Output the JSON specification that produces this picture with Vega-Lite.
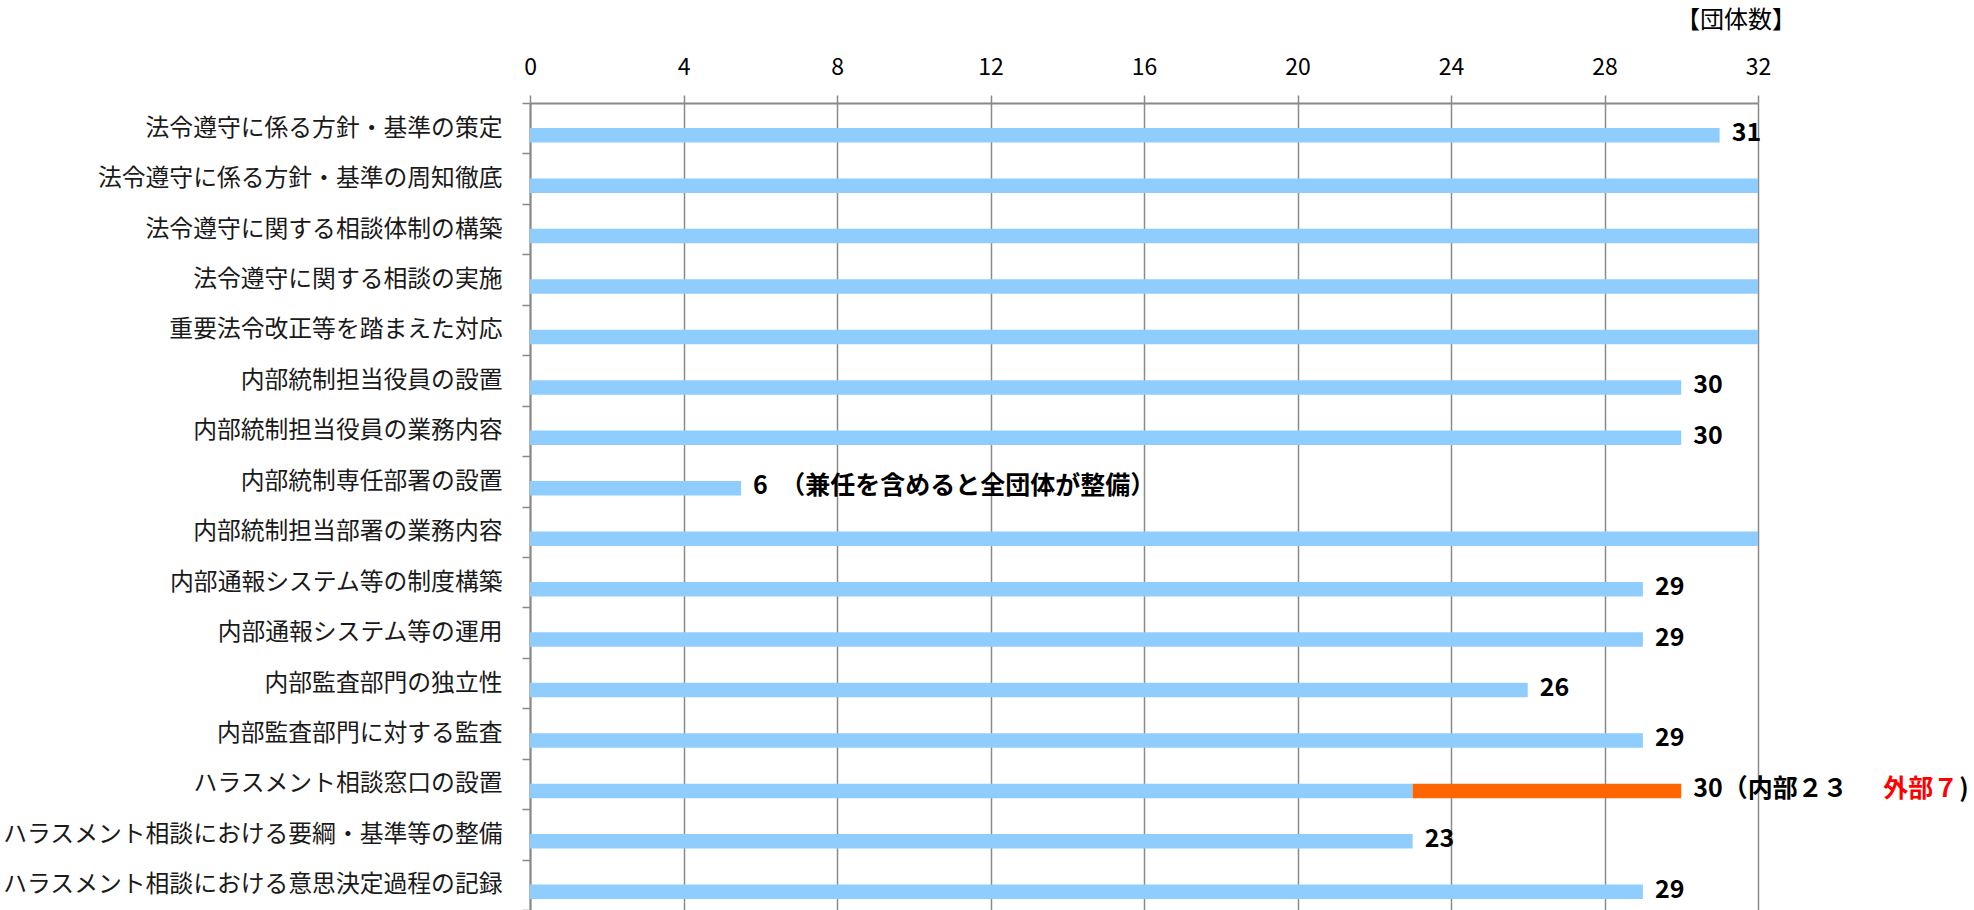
{
  "$schema": "https://vega.github.io/schema/vega-lite/v6.json",
  "width": 1228,
  "height": 807,
  "autosize": {"type": "none"},
  "padding": {"left": 530, "top": 103, "right": 216, "bottom": 0},
  "background": "white",
  "config": {"view": {"stroke": null}},
  "title": {"text": "【団体数】", "anchor": "end", "frame": "group", "orient": "top", "fontSize": 24, "fontWeight": "normal", "font": "Noto Sans CJK JP", "color": "#000000", "dx": 38, "offset": 23},
  "data": {"values": [
    {"item": "法令遵守に係る方針・基準の策定", "blue": 31, "total": 31, "label": "31"},
    {"item": "法令遵守に係る方針・基準の周知徹底", "blue": 32, "total": 32},
    {"item": "法令遵守に関する相談体制の構築", "blue": 32, "total": 32},
    {"item": "法令遵守に関する相談の実施", "blue": 32, "total": 32},
    {"item": "重要法令改正等を踏まえた対応", "blue": 32, "total": 32},
    {"item": "内部統制担当役員の設置", "blue": 30, "total": 30, "label": "30"},
    {"item": "内部統制担当役員の業務内容", "blue": 30, "total": 30, "label": "30"},
    {"item": "内部統制専任部署の設置", "blue": 5.5, "total": 5.5, "label": "6　（兼任を含めると全団体が整備）"},
    {"item": "内部統制担当部署の業務内容", "blue": 32, "total": 32},
    {"item": "内部通報システム等の制度構築", "blue": 29, "total": 29, "label": "29"},
    {"item": "内部通報システム等の運用", "blue": 29, "total": 29, "label": "29"},
    {"item": "内部監査部門の独立性", "blue": 26, "total": 26, "label": "26"},
    {"item": "内部監査部門に対する監査", "blue": 29, "total": 29, "label": "29"},
    {"item": "ハラスメント相談窓口の設置", "blue": 23, "total": 30, "label": "30（内部２３", "labelRed": "外部７", "labelEnd": ")"},
    {"item": "ハラスメント相談における要綱・基準等の整備", "blue": 23, "total": 23, "label": "23"},
    {"item": "ハラスメント相談における意思決定過程の記録", "blue": 29, "total": 29, "label": "29"}
  ]},
  "encoding": {
    "y": {
      "field": "item", "type": "nominal", "sort": null,
      "scale": {"paddingInner": 0, "paddingOuter": 0},
      "axis": {"title": null, "orient": "left", "labelFontSize": 23.8, "labelFont": "Noto Sans CJK JP", "labelColor": "#1a1a1a", "labelPadding": 20, "labelLimit": 700, "tickSize": 8, "tickColor": "#888888", "tickWidth": 1.5, "domainColor": "#888888", "domainWidth": 2, "tickBand": "extent", "grid": false}
    }
  },
  "layer": [
    {
      "mark": {"type": "bar", "color": "#90CDFF", "height": 14.5, "yOffset": 7},
      "encoding": {
        "x": {"field": "blue", "type": "quantitative", "scale": {"domain": [0, 32], "nice": false},
          "axis": {"orient": "top", "title": null, "values": [0, 4, 8, 12, 16, 20, 24, 28, 32], "labelFlush": false, "labelFontSize": 23, "labelFont": "Noto Sans CJK JP", "labelColor": "#000000", "labelPadding": 16, "tickSize": 8, "tickColor": "#888888", "tickWidth": 1.5, "domainColor": "#888888", "domainWidth": 2, "grid": true, "gridColor": "#8a8a8a", "gridWidth": 1.5}}
      }
    },
    {
      "transform": [{"filter": "datum.total > datum.blue"}],
      "mark": {"type": "bar", "color": "#FF6600", "height": 14.5, "yOffset": 7},
      "encoding": {
        "x": {"field": "blue", "type": "quantitative"},
        "x2": {"field": "total"}
      }
    },
    {
      "transform": [{"filter": "datum.label != null"}],
      "mark": {"type": "text", "align": "left", "baseline": "middle", "dx": 12, "dy": 5, "fontSize": 25, "fontWeight": "bold", "font": "Noto Sans CJK JP", "color": "#000000"},
      "encoding": {
        "x": {"field": "total", "type": "quantitative"},
        "text": {"field": "label"}
      }
    },
    {
      "transform": [{"filter": "datum.labelRed != null"}],
      "mark": {"type": "text", "align": "left", "baseline": "middle", "dx": 202, "dy": 5, "fontSize": 25, "fontWeight": "bold", "font": "Noto Sans CJK JP", "color": "#FF0000"},
      "encoding": {
        "x": {"field": "total", "type": "quantitative"},
        "text": {"field": "labelRed"}
      }
    },
    {
      "transform": [{"filter": "datum.labelEnd != null"}],
      "mark": {"type": "text", "align": "left", "baseline": "middle", "dx": 278, "dy": 5, "fontSize": 25, "fontWeight": "bold", "font": "Noto Sans CJK JP", "color": "#000000"},
      "encoding": {
        "x": {"field": "total", "type": "quantitative"},
        "text": {"field": "labelEnd"}
      }
    }
  ]
}
